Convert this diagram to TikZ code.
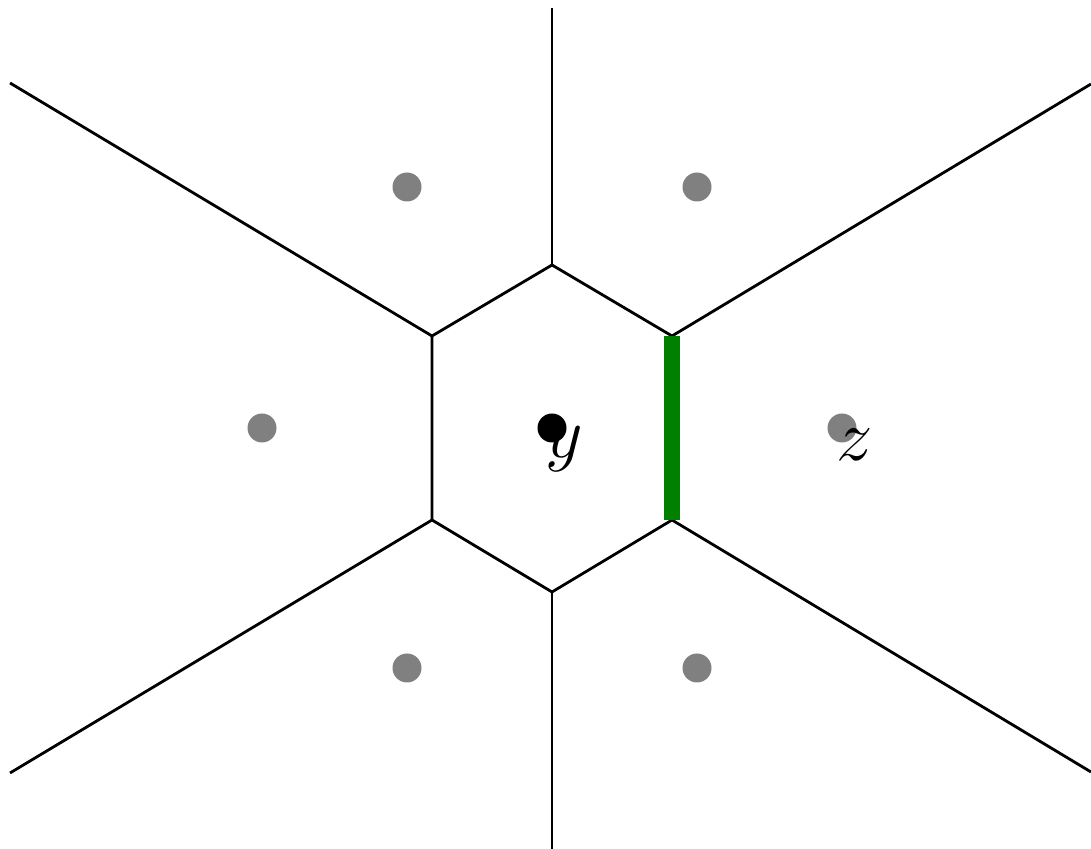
\documentclass[tikz,border=0pt]{standalone}
\usetikzlibrary{positioning,calc}
\tikzset{
 site/.style={circle,fill=gray,inner sep=0pt,minimum size=2.9mm},
 centresite/.style={circle,fill=black,inner sep=0pt,minimum size=2.9mm},
 cellline/.style={thick},
 sharedline/.style={line width=4.5pt,draw=green!50!black},
 sitelabel/.style={inner sep=0pt,anchor=base west,font=\huge}
}
\begin{document}
\begin{tikzpicture}
\useasboundingbox (0,0) rectangle (10.91,8.49);
% vertices of the centre cell
\coordinate (t) at (5.52,5.84);
\coordinate (ur) at (6.72,5.13);
\coordinate (lr) at (6.72,3.29);
\coordinate (b) at (5.52,2.57);
\coordinate (ll) at (4.32,3.29);
\coordinate (ul) at (4.32,5.13);
% far ends of the unbounded edges
\coordinate (tend) at (5.52,8.41);
\coordinate (urend) at (10.91,7.65);
\coordinate (lrend) at (10.91,0.77);
\coordinate (bend) at (5.52,0);
\coordinate (llend) at (0.10,0.76);
\coordinate (ulend) at (0.10,7.66);
% sites
\node[site] (nw) at (4.07,6.62) {};
\node[site] (ne) at (6.97,6.62) {};
\node[site] (w) at (2.62,4.21) {};
\node[site] (z) at (8.42,4.21) {};
\node[site] (sw) at (4.07,1.81) {};
\node[site] (se) at (6.97,1.81) {};
\node[centresite] (y) at (5.52,4.21) {};
% cells
\draw[cellline] (t)--(ur)--(lr)--(b)--(ll)--(ul)--cycle;
\draw[cellline] (t)--(tend);
\draw[cellline] (ur)--(urend);
\draw[cellline] (lr)--(lrend);
\draw[cellline] (b)--(bend);
\draw[cellline] (ll)--(llend);
\draw[cellline] (ul)--(ulend);
\draw[sharedline] (ur)--(lr);
% labels
\node[sitelabel] (ylbl) at (5.45,3.91) {$y$};
\node[sitelabel] (zlbl) at (8.36,3.88) {$z$};
\end{tikzpicture}
\end{document}
